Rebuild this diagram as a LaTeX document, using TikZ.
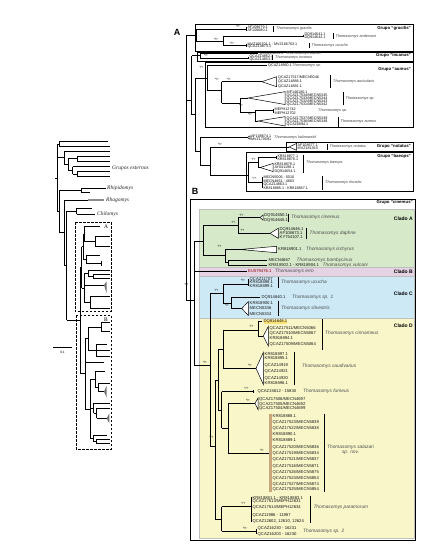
\documentclass[tikz,border=0pt]{standalone}
\usepackage{fontspec}
\setmainfont{Liberation Sans}
\newfontfamily\serifit{Liberation Serif}
\usetikzlibrary{positioning}
\definecolor{bgA}{RGB}{214,233,201}
\definecolor{bgB}{RGB}{229,211,228}
\definecolor{bgC}{RGB}{205,233,246}
\definecolor{bgD}{RGB}{249,247,201}
\definecolor{salbar}{RGB}{200,168,120}
\definecolor{hlite}{RGB}{250,226,120}
\tikzset{
  br/.style={line width=0.7pt},
  bar/.style={line width=0.6pt},
  wedge/.style={line width=0.5pt,fill=white},
  lwedge/.style={fill=black!55},
  tip/.style={anchor=west,inner sep=0pt,text=black!95,font=\fontsize{3.7}{3.7}\selectfont},
  tipb/.style={anchor=west,inner sep=0pt,text=black!90,font=\fontsize{4.2}{4.2}\selectfont},
  spp/.style={anchor=west,inner sep=0pt,text=black!75,font=\fontsize{3.8}{3.8}\selectfont\itshape},
  sppb/.style={anchor=west,inner sep=0pt,text=black!70,font=\fontsize{4.8}{5.2}\selectfont\itshape},
  supp/.style={inner sep=0pt,font=\fontsize{3.2}{3.2}\selectfont},
  grp/.style={anchor=east,inner sep=0pt,font=\fontsize{4.3}{4.3}\selectfont\bfseries},
  clado/.style={anchor=east,inner sep=0pt,font=\fontsize{5}{5}\selectfont\bfseries},
  panel/.style={inner sep=0pt,font=\fontsize{9}{9}\selectfont\bfseries},
  genus/.style={anchor=west,inner sep=0pt,text=black!85,font=\serifit\fontsize{5.5}{5.5}\selectfont\itshape},
  boxlbl/.style={inner sep=0pt,font=\serifit\fontsize{5.5}{5.5}\selectfont},
  gbox/.style={line width=0.7pt},
  band/.style={draw=black!25,line width=0.3pt}
}
\begin{document}
\begin{tikzpicture}[x=1pt,y=-1pt]
\useasboundingbox (0,0) rectangle (431,555);
\fill[white] (0,0) rectangle (431,555);

% ---- overview tree ----
\draw[br] (55.3,178)--(57.3,178) (57.3,144)--(57.3,211.6);
\draw[br] (57.3,144)--(59.3,144) (59.3,141.7)--(59.3,146.3)
  (59.3,141.7)--(108.3,141.7) (59.3,146.3)--(110,146.3);
\draw[br] (57.3,157.8)--(64.3,157.8) (64.3,151)--(64.3,164.5) (64.3,151)--(110,151)
  (64.3,164.5)--(68.3,164.5) (68.3,158.7)--(68.3,170.4)
  (68.3,158.7)--(77.3,158.7) (77.3,156)--(77.3,161.3) (77.3,156)--(110,156) (77.3,161.3)--(110,161.3)
  (68.3,170.4)--(72.7,170.4) (72.7,166.7)--(72.7,174) (72.7,166.7)--(110,166.7)
  (72.7,174)--(77.3,174) (77.3,171.7)--(77.3,176.3) (77.3,171.7)--(110,171.7) (77.3,176.3)--(110,176.3);
\draw[br] (57.3,211.6)--(59.3,211.6) (59.3,190.5)--(59.3,232.8)
  (59.3,190.5)--(81.7,190.5) (81.7,188.3)--(81.7,192.7) (81.7,188.3)--(106,188.3) (81.7,192.7)--(90,192.7)
  (59.3,232.8)--(64,232.8) (64,200)--(64,265.6) (64,200)--(88.3,200)
  (64,265.6)--(66.7,265.6) (66.7,211)--(66.7,320.3)
  (66.7,211)--(76.7,211) (76.7,208.3)--(76.7,214) (76.7,208.3)--(92,208.3) (76.7,214)--(95,214)
  (66.7,320.3)--(80,320.3) (80,267.2)--(80,373.3);
\draw[line width=1.3pt,black!45] (88.3,200)--(104,200);
% box A part
\draw[br] (80,267.2)--(81.7,267.2) (81.7,246.5)--(81.7,287.9)
  (81.7,246.5)--(83,246.5) (83,233.9)--(83,259.2)
  (83,233.9)--(84.3,233.9) (84.3,226)--(84.3,241.7) (84.3,226)--(100,226)
  (84.3,241.7)--(95,241.7) (95,236.7)--(95,246.7) (95,236.7)--(110,236.7) (95,246.7)--(110,246.7)
  (83,259.2)--(86,259.2) (86,255)--(86,263.3) (86,255)--(100,255) (86,263.3)--(101.7,263.3) (101.7,260.5)--(101.7,266)
  (81.7,287.9)--(84.5,287.9) (84.5,273.2)--(84.5,302.5)
  (84.5,273.2)--(88.3,273.2) (88.3,270)--(88.3,276.3) (88.3,270)--(110,270)
  (88.3,276.3)--(93.3,276.3) (93.3,274.3)--(93.3,278.3) (93.3,274.3)--(110,274.3) (93.3,278.3)--(110,278.3)
  (84.5,285)--(104,285)
  (84.5,302.5)--(90,302.5) (90,296.7)--(90,308.3) (90,296.7)--(110,296.7) (90,308.3)--(110,308.3);
\fill[lwedge] (104,285)--(106.5,281.5)--(106.5,293)--cycle;
% box B part
\draw[br] (80,373.3)--(85,373.3) (85,338.7)--(85,408.85)
  (85,338.7)--(88.3,338.7) (88.3,326.85)--(88.3,350.5)
  (88.3,326.85)--(101.7,326.85) (101.7,322)--(101.7,331.7) (101.7,322)--(110,322) (101.7,331.7)--(110,331.7)
  (88.3,350.5)--(96.7,350.5) (96.7,344.3)--(96.7,356.7) (96.7,344.3)--(106.7,344.3) (96.7,350.5)--(110,350.5) (96.7,356.7)--(110,356.7)
  (85,362.3)--(104,362.3)
  (85,408.85)--(90,408.85) (90,379.5)--(90,438.2)
  (90,379.5)--(95,379.5) (95,371.7)--(95,387.3) (95,371.7)--(105,371.7)
  (95,387.3)--(98.3,387.3) (98.3,383.3)--(98.3,391.7) (98.3,383.3)--(110,383.3) (98.3,391.7)--(104,391.7)
  (90,408.3)--(93.5,408.3) (93.5,403.3)--(93.5,413.3) (93.5,403.3)--(110,403.3)
  (93.5,413.3)--(96.7,413.3) (96.7,408.3)--(96.7,418.3) (96.7,408.3)--(110,408.3) (96.7,418.3)--(106.7,418.3)
  (90,438.2)--(93.3,438.2) (93.3,435)--(93.3,441.3) (93.3,435)--(106.7,435)
  (93.3,441.3)--(96,441.3) (96,439.3)--(96,443.3) (96,439.3)--(110,439.3) (96,443.3)--(110,443.3);
\fill[lwedge] (104,391.7)--(106.5,386)--(106.5,397)--cycle;
\fill[lwedge] (106.7,418.3)--(109.3,413.3)--(109.3,423.3)--cycle;
\draw[dash pattern=on 2.5pt off 1.5pt,line width=0.6pt] (75.3,222.3) rectangle (111,311.7);
\draw[dash pattern=on 2.5pt off 1.5pt,line width=0.6pt] (76.3,315) rectangle (111,449.3);
\node[boxlbl] (ovA) at (106,227) {A};
\node[boxlbl] (ovB) at (106,319.5) {B};
\node[genus] (ext) at (112,168) {Grupos externos};
\node[genus] (rhi) at (107,188.3) {Rhipidomys};
\node[genus] (rha) at (106,200) {Rhagomys};
\node[genus] (chi) at (97,214) {Chilomys};
\draw[line width=0.6pt] (53.3,347.3)--(71.7,347.3);
\node[supp] (scl) at (62.5,352) {0.1};

% ---- panel A ----
\node[panel] (pA) at (177,32.5) {A};
\draw[gbox] (195,24.3) rectangle (413,51);
\draw[gbox] (197.3,52.3) rectangle (413,61);
\draw[gbox] (205,62.5) rectangle (413,127.5);
\draw[gbox] (286,142.5) rectangle (413,151);
\draw[gbox] (246.5,152.5) rectangle (413,191);
\draw[br] (186,35)--(186,300)
  (186,100)--(191.7,100) (191.7,55.8)--(191.7,114.5)
  (191.7,114.5)--(195,114.5) (195,78)--(195,151)
  (195,151)--(200,151) (200,137.5)--(200,165)
  (200,165)--(210,165) (210,147)--(210,175);
% gracilis
\draw[br] (186,35)--(196,35) (196,29)--(196,41)
  (196,29)--(246,29) (246,27.3)--(246,30.7)
  (196,41)--(223,41) (223,36.2)--(223,45.5)
  (223,36.2)--(303,36.2) (303,35)--(303,37.4)
  (223,45.5)--(246,45.5) (246,44.3)--(246,46.9);
\draw[bar] (273.5,25.8)--(273.5,31.8) (333.3,33.4)--(333.3,39.2) (309,43)--(309,48);
\node[tip] (a1) at (247.3,27.3) {AF108679.1};
\node[tip] (a2) at (247.3,30.7) {AF108680.1};
\node[tip] (a3) at (304.3,35) {DQ914641.1};
\node[tip] (a4) at (304.3,37.6) {DQ914642.1};
\node[tip] (a5) at (247.3,44.3) {MVZ166701.1 - MVZ166703.1};
\node[tip] (a6) at (247.3,47) {QCAZ14873.1};
\node[spp] (s1) at (276,28.8) {Thomasomys gracilis};
\node[spp] (s2) at (335.5,36.3) {Thomasomys andersoni};
\node[spp] (s3) at (311.5,45.5) {Thomasomys ucucha};
\node[grp] (g1) at (411,28) {Grupo ``gracilis''};
\node[supp] (p1) at (238,26.5) {*/+};
\node[supp] (p2) at (216,39) {*/+};
\node[supp] (p3) at (232,43.5) {*/+};
% incanus
\draw[br] (191.7,55.8)--(200,55.8) (200,53.5)--(200,58)
  (200,53.5)--(258,53.5) (200,58)--(248,58) (248,56.7)--(248,59.3);
\draw[bar] (272.5,55.3)--(272.5,60.3);
\node[tip] (a7) at (259.3,53.5) {QCAZ14851.1};
\node[tip] (a8) at (249.3,56.6) {QCAZ14852.1};
\node[tip] (a9) at (249.3,59.4) {QCAZ14853.1};
\node[spp] (s4) at (286,53.5) {Thomasomys ladewi};
\node[spp] (s5) at (275,58) {Thomasomys incanus};
\node[grp] (g2) at (411,55.5) {Grupo ``incanus''};
\node[supp] (p4) at (206,55) {*/+};
% aureus
\draw[br] (195,78)--(207,78) (207,65.7)--(207,90.7)
  (207,65.7)--(266.7,65.7)
  (207,90.7)--(221.7,90.7) (221.7,81.7)--(221.7,103)
  (221.7,81.7)--(261.7,81.7)
  (221.7,103)--(240,103) (240,98)--(240,112)
  (240,98)--(248,98)
  (240,112)--(255,112) (255,110)--(255,121)
  (255,110)--(273,110) (273,109)--(273,113)
  (255,121)--(258,121);
\draw[wedge] (261.7,81.7)--(276.7,76.7)--(276.7,86.7)--cycle;
\draw[wedge] (248,98)--(285,91.7)--(285,104.5)--cycle;
\draw[wedge] (258,121)--(285,116.7)--(285,126)--cycle;
\draw[bar] (330,75)--(330,88.3) (343.3,91.5)--(343.3,105) (338,116.5)--(338,126.5);
\node[tip] (a10) at (268,65.7) {QCAZ14860.1};
\node[tip] (a11) at (278,77.2) {QCAZ17517/MECN5046};
\node[tip] (a12) at (278,81.7) {QCAZ14888.1};
\node[tip] (a13) at (278,86.2) {QCAZ14891.1};
\node[tip] (a14) at (286.5,92.6) {MF148180.1};
\node[tip] (a15) at (286.5,95.6) {QCAZ17534/MECN5345};
\node[tip] (a16) at (286.5,98.6) {QCAZ17533/MECN5344};
\node[tip] (a17) at (286.5,101.6) {QCAZ17532/MECN5343};
\node[tip] (a18) at (286.5,104.4) {QCAZ17531/MECN5342};
\node[tip] (a19) at (274.5,109.2) {MEPH12742};
\node[tip] (a20) at (274.5,112.8) {MEPH12702};
\node[tip] (a21) at (286.5,118.2) {QCAZ17537/MECN5349};
\node[tip] (a22) at (286.5,121.6) {QCAZ17536/MECN5348};
\node[tip] (a23) at (286.5,125) {QCAZ8094.1};
\node[spp] (s6) at (292,65.7) {Thomasomys sp.};
\node[spp] (s7) at (333,81.7) {Thomasomys auricularis};
\node[spp] (s8) at (345.5,98.5) {Thomasomys sp.};
\node[spp] (s9) at (318,111) {Thomasomys sp.};
\node[spp] (s10) at (340.5,121.6) {Thomasomys aureus};
\node[grp] (g3) at (411,69) {Grupo ``aureus''};
\node[supp] (p5) at (201.5,67.3) {*/+};
\node[supp] (p6) at (217,79.8) {*/+};
\node[supp] (p7) at (229,79.8) {*/+};
\node[supp] (p8) at (241,105) {*/+};
\node[supp] (p9) at (250,114.2) {*/+};
% kalinowskii and notatus
\draw[br] (200,137.5)--(247.3,137.5) (210,147)--(289,147);
\draw[wedge] (247.3,137.5)--(250,135.8)--(250,139.2)--cycle;
\draw[wedge] (289,147)--(296.5,143.5)--(296.5,150.3)--cycle;
\node[tip] (a24) at (250.8,136) {AF108674.1};
\node[tip] (a25) at (250.8,139.3) {MVZ170091};
\node[spp] (s11) at (274,137.6) {Thomasomys kalinowskii};
\node[tip] (a26) at (297.5,144.8) {AF108677.1};
\node[tip] (a27) at (297.5,148.4) {MVZ181363};
\draw[bar] (327.3,143.5)--(327.3,150.3);
\node[spp] (s12) at (329.5,146.8) {Thomasomys notatus};
\node[grp] (g4) at (411,146.8) {Grupo ``notatus''};
\node[supp] (p10) at (196,150) {*};
\node[supp] (p11) at (220,144.3) {*/+};
% baeops
\draw[br] (210,175)--(248,175) (248,162.7)--(248,182.5)
  (248,162.7)--(258,162.7) (258,157.7)--(258,167.5)
  (258,157.7)--(276,157.7) (276,156)--(276,159.4)
  (258,167.5)--(260,167.5)
  (248,182.5)--(262,182.5) (262,177.3)--(262,188.3);
\draw[wedge] (260,167.5)--(273,163.5)--(273,171.5)--cycle;
\draw[bar] (303,154.5)--(303,173) (322,176)--(322,190);
\node[tip] (a28) at (277.3,156) {KR818877.1};
\node[tip] (a29) at (277.3,159.4) {KR818878.1};
\node[tip] (a30) at (274.3,164) {KR818879.1};
\node[tip] (a31) at (274.3,167.7) {AY041199.1};
\node[tip] (a32) at (274.3,171.3) {DQ914654.1};
\node[tip] (a33) at (263.3,177.3) {MECN5006 - 5010};
\node[tip] (a34) at (263.3,181) {MECN4861 - 4863};
\node[tip] (a35) at (263.3,184.7) {QCAZ14863.1};
\node[tip] (a36) at (263.3,188.3) {KR818885.1 - KR818887.1};
\node[spp] (s13) at (306,163) {Thomasomys baeops};
\node[spp] (s14) at (325,182.8) {Thomasomys rhoadsi};
\node[grp] (g5) at (411,156.5) {Grupo ``baeops''};
\node[supp] (p12) at (253.5,159.5) {*/+};
\node[supp] (p13) at (254.5,178.5) {*/+};

% ---- panel B ----
\node[panel] (pB) at (195,191.5) {B};
\draw[band,fill=bgA] (199.5,209.5) rectangle (414.5,267);
\draw[band,fill=bgB] (199.5,267) rectangle (414.5,276);
\draw[band,fill=bgC] (199.5,276) rectangle (414.5,318.5);
\draw[band,fill=bgD] (199.5,318.5) rectangle (414.5,538);
\draw[gbox] (190.7,199) rectangle (415,540);
\node[grp] (g6) at (413,202.8) {Grupo ``cinereus''};
\node[clado] (cA) at (413,219) {Clado A};
\node[clado] (cB) at (413,271.5) {Clado B};
\node[clado] (cC) at (413,293.3) {Clado C};
\node[clado] (cD) at (413,326) {Clado D};
\draw[br] (186,300)--(194,300) (194,241.7)--(194,365);
\node[supp] (q0) at (186.5,284) {*/+};
% clado A
\draw[br] (194,241.7)--(203.3,241.7) (203.3,225.4)--(203.3,255)
  (203.3,225.4)--(238.3,225.4) (238.3,217.5)--(238.3,233.3)
  (238.3,217.5)--(260,217.5) (238.3,233.3)--(270,233.3)
  (203.3,255)--(225,255) (225,249.5)--(225,262.5)
  (225,249.5)--(240,249.5)
  (225,262.5)--(228.3,262.5) (228.3,260)--(228.3,265)
  (228.3,260)--(266.7,260) (228.3,265)--(266.7,265);
\draw[wedge] (260,217.5)--(263,215)--(263,220)--cycle;
\draw[wedge] (270,233.3)--(278.3,228.3)--(278.3,238.3)--cycle;
\draw[wedge] (240,249.5)--(276.5,246.3)--(276.5,252.7)--cycle;
\draw[bar] (288,213.5)--(288,221.5) (306,227.5)--(306,239);
\node[tipb] (b1) at (264,215) {DQ914650.1};
\node[tipb] (b2) at (264,220) {DQ914645.1};
\node[tipb] (b3) at (279.5,229.3) {DQ914646.1};
\node[tipb] (b4) at (279.5,233.3) {AF108673.1};
\node[tipb] (b5) at (279.5,237.3) {KY754107.1};
\node[tipb] (b6) at (278,249.5) {KR818901.1};
\node[tipb] (b7) at (268.3,260) {MECN4667};
\node[tipb] (b8) at (268.3,265) {KR818902.1 - KR818904.1};
\node[sppb] (t1) at (291,217.5) {Thomasomys cinereus};
\node[sppb] (t2) at (309.5,233.3) {Thomasomys daphne};
\node[sppb] (t3) at (306,249.5) {Thomasomys ischyrus};
\node[sppb] (t4) at (296.5,260) {Thomasomys bombycinus};
\node[sppb] (t5) at (322.5,265) {Thomasomys vulcani};
\node[supp] (q1) at (241.5,215.8) {*/+};
\node[supp] (q2) at (233.5,222.7) {*/+};
\node[supp] (q3) at (242.5,230.5) {*/+};
\node[supp] (q4) at (219.5,246) {*/+};
% clado B
\draw[br] (194,271.5)--(246.7,271.5);
\node[tipb,text=red!55!black] (b9) at (248,271.5) {EU579476.1};
\node[sppb] (t6) at (275,271.5) {Thomasomys erro};
% clado C
\draw[br] (194,365)--(210,365) (210,293.3)--(210,446)
  (210,293.3)--(223.3,293.3) (223.3,284)--(223.3,303)
  (223.3,284)--(248.3,284) (248.3,279)--(248.3,285.7)
  (223.3,303)--(231.7,303) (231.7,297)--(231.7,308.5)
  (231.7,297)--(260,297)
  (231.7,308.5)--(241.7,308.5);
\draw[wedge] (241.7,308.5)--(248.3,301.7)--(248.3,315.3)--cycle;
\draw[bar] (278.3,277.3)--(278.3,287.5) (278.3,300.8)--(278.3,315.5);
\node[tipb] (b10) at (249.5,279) {QCAZ11707};
\node[tipb] (b11) at (249.5,282.4) {KR818898.1};
\node[tipb] (b12) at (249.5,285.8) {KR818899.1};
\node[tipb] (b13) at (261.5,297) {DQ914640.1};
\node[tipb] (b14) at (249.5,302.7) {KR818900.1};
\node[tipb] (b15) at (249.5,308.3) {MECN5336};
\node[tipb] (b16) at (249.5,314) {MECN5334};
\node[sppb] (t7) at (281,282.5) {Thomasomys ucucha};
\node[sppb] (t8) at (292,297) {Thomasomys sp. 1};
\node[sppb] (t9) at (281,308.3) {Thomasomys silvestris};
\node[supp] (q5) at (205,362) {*/+};
\node[supp] (q6) at (216.5,290) {*/+};
\node[supp] (q7) at (243,280.3) {*/+};
\node[supp] (q8) at (227,305) {*/+};
% clado D
\draw[br] (210,446)--(215,446) (215,380)--(215,519)
  (215,380)--(218.3,380) (218.3,349)--(218.3,410)
  (218.3,349)--(223.3,349) (223.3,330)--(223.3,368.3)
  (223.3,330)--(258,330) (258,321.7)--(258,336) (258,321.7)--(262,321.7) (258,336)--(263.3,336)
  (223.3,368.3)--(256,368.3)
  (218.3,410)--(221.7,410) (221.7,391.7)--(221.7,428.3)
  (221.7,391.7)--(253,391.7) (253,390)--(253,393.4)
  (221.7,428.3)--(228.3,428.3) (228.3,403.3)--(228.3,453.3)
  (228.3,403.3)--(255,403.3)
  (228.3,453.3)--(269.3,453.3)
  (215,519)--(221.7,519) (221.7,506.7)--(221.7,531)
  (221.7,506.7)--(251,506.7) (251,497)--(251,522)
  (221.7,531)--(256,531) (256,528.5)--(256,534);
\draw[wedge] (263.3,336)--(268.3,326.5)--(268.3,346)--cycle;
\draw[wedge] (256,368.3)--(263.3,352.5)--(263.3,384.5)--cycle;
\draw[wedge] (255,403.3)--(258,398)--(258,409.5)--cycle;
\fill[salbar] (269.3,414) rectangle (271.7,491.7);
\draw[bar] (322.3,319.3)--(322.3,350) (294,351.7)--(294,385) (324,414)--(324,491.7) (310,495.5)--(310,523);
\node[tipb,fill=hlite] (d0) at (263.3,321.7) {DQ914648.1};
\node[tipb] (d1) at (269.5,328.3) {QCAZ17511/MECN5066};
\node[tipb] (d2) at (269.5,333.3) {QCAZ17510/MECN5067};
\node[tipb] (d3) at (269.5,338.3) {KR818894.1};
\node[tipb] (d4) at (269.5,344.3) {QCAZ17509/MECN5064};
\node[tipb] (d5) at (264.5,354) {KR818897.1};
\node[tipb] (d6) at (264.5,358.3) {KR818895.1};
\node[tipb] (d7) at (264.5,365) {QCAZ14919};
\node[tipb] (d8) at (264.5,371.7) {QCAZ14921};
\node[tipb] (d9) at (264.5,378.3) {QCAZ14920};
\node[tipb] (d10) at (264.5,383.3) {KR818896.1};
\node[tipb] (d11) at (257.3,391.7) {QCAZ15812 - 15830};
\node[tipb] (d12) at (259,399.3) {QCAZ17506/MECN4697};
\node[tipb] (d13) at (259,404) {QCAZ17505/MECN4692};
\node[tipb] (d14) at (259,408.3) {QCAZ17504/MECN4699};
\node[tipb] (d15) at (272.5,416.5) {KR818888.1};
\node[tipb] (d16) at (272.5,422.5) {QCAZ17523/MECN5839};
\node[tipb] (d17) at (272.5,428.5) {QCAZ17522/MECN5838};
\node[tipb] (d18) at (272.5,434.5) {KR818890.1};
\node[tipb] (d19) at (272.5,440.5) {KR818889.1};
\node[tipb] (d20) at (272.5,447.5) {QCAZ17520/MECN5836};
\node[tipb] (d21) at (272.5,453.5) {QCAZ17519/MECN5834};
\node[tipb] (d22) at (272.5,459.5) {QCAZ17521/MECN5837};
\node[tipb] (d23) at (272.5,466.5) {QCAZ17516/MECN5871};
\node[tipb] (d24) at (272.5,472.5) {QCAZ17526/MECN5875};
\node[tipb] (d25) at (272.5,478.5) {QCAZ17524/MECN5853};
\node[tipb] (d26) at (272.5,484.5) {QCAZ17527/MECN5874};
\node[tipb] (d27) at (272.5,489.5) {QCAZ17525/MECN5854};
\node[tipb] (d28) at (252.3,497.7) {KR818881.1 - KR818883.1};
\node[tipb] (d29) at (252.3,501.7) {QCAZ17513/MEPH12631};
\node[tipb] (d30) at (252.3,507.7) {QCAZ17514/MEPH12634};
\node[tipb] (d31) at (252.3,515) {QCAZ11986 - 11987};
\node[tipb] (d32) at (252.3,521) {QCAZ12602, 12610, 12624};
\node[tipb] (d33) at (257.5,528.5) {QCAZ16230 - 16231};
\node[tipb] (d34) at (257.5,534) {QCAZ16203 - 16230};
\node[sppb] (t10) at (325,333.3) {Thomasomys cinnameus};
\node[sppb] (t11) at (301.7,366) {Thomasomys caudivarius};
\node[sppb] (t12) at (303,391.7) {Thomasomys fumeus};
\node[sppb,align=center] (t13) at (327,449.5) {Thomasomys salazari\\sp. nov.};
\node[sppb] (t14) at (313.3,507) {Thomasomys paramorum};
\node[sppb] (t15) at (303,531) {Thomasomys sp. 2};
\node[supp] (q9) at (211.5,437) {*/+};
\node[supp] (q10) at (251.5,326.5) {*/+};
\node[supp] (q11) at (250,365) {*/+};
\node[supp] (q12) at (246.5,388.3) {*/+};
\node[supp] (q13) at (248,400) {*/+};
\node[supp] (q14) at (262,450) {*/+};
\node[supp] (q15) at (243.5,503.5) {*/+};
\node[supp] (q16) at (245,528) {*/+};
\end{tikzpicture}
\end{document}
